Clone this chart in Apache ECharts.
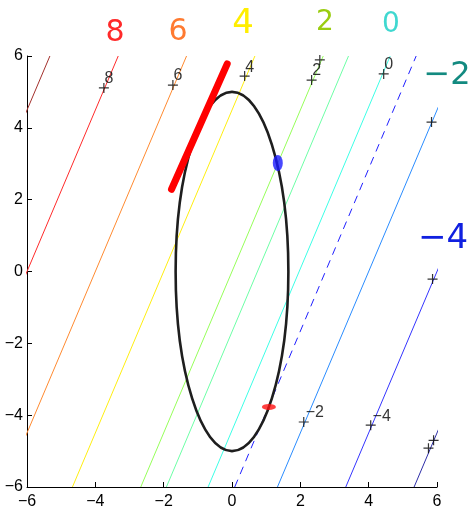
<!DOCTYPE html>
<html>
<head>
<meta charset="utf-8">
<script src="https://cdn.jsdelivr.net/npm/echarts@6/dist/echarts.min.js"></script>
<style>
  html, body { margin: 0; padding: 0; background: #fff; }
  #chart { width: 470px; height: 511px; }
</style>
</head>
<body>
<div id="chart"></div>
<script>
// Contour levels of the linear objective, each line given by where it
// crosses the bottom (y = -6) and top (y = 6) edges of the domain.
const levels      = [10, 8, 6, 4, 2, 1.25, 0, -0.78, -2, -4, -6];
const xAtBottom   = [-10.67, -8.67, -6.67, -4.67, -2.67, -1.92, -0.70, 0.08, 1.33, 3.33, 5.33];
const xAtTop      = [-5.33, -3.33, -1.33, 0.67, 2.67, 3.41, 4.63, 5.39, 6.67, 8.67, 10.67];
const levelColors = ['#a3302c', '#ff2a2a', '#ff8a30', '#ffee10', '#96ff5a', '#6dffa6', '#3cffe6', '#1f1fff', '#2a8cff', '#3434ff', '#2e2ea8'];
const dashedLevel = -0.78;
const yBottom = -6, yTop = 6;

// Contour label markers ("+") and their texts
const plusX    = [-3.75, -1.73, 0.37, 2.33, 2.57, 4.44, 2.10, 4.06, 5.75, 5.90, 5.84, 5.87];
const plusY    = [5.11, 5.19, 5.44, 5.33, 5.89, 5.50, -4.19, -4.28, -4.92, -4.70, 4.16, -0.21];
const plusText = ['8', '6', '4', '2', '', '0', '\u22122', '\u22124', '', '', '', ''];

// Constraint ellipse x^2/a^2 + y^2/b^2 = 1
const ellipseCenter = [0, 0];
const ellipseSemi   = [1.65, 5];

// Hand-drawn marks
const tangentStroke = [[-1.77, 2.29], [-0.14, 5.78]];
const blueMark = [1.34, 3.02];
const redMark  = [1.08, -3.77];

// Handwritten level notes around the frame
const noteTexts  = ['8', '6', '4', '2', '0', '\u22122', '\u22124'];
const noteColors = ['#ff2a2a', '#ff7a30', '#ffee00', '#9acd10', '#40d8d0', '#138a80', '#1020e0'];

const chart = echarts.init(document.getElementById('chart'), null, { renderer: 'canvas' });

const series = [];
levels.forEach((lv, i) => {
  series.push({
    type: 'line',
    data: [[xAtBottom[i], yBottom], [xAtTop[i], yTop]],
    symbol: 'none',
    silent: true,
    clip: true,
    z: 2,
    lineStyle: {
      color: levelColors[i],
      width: 1,
      type: lv === dashedLevel ? [8, 6] : 'solid'
    }
  });
});

series.push({
  type: 'custom',
  z: 5,
  silent: true,
  data: [[ellipseCenter[0], ellipseCenter[1], ellipseSemi[0], ellipseSemi[1]]],
  renderItem: function (params, api) {
    const c = api.coord([api.value(0), api.value(1)]);
    const rx = api.size([api.value(2), 0])[0];
    const ry = api.size([0, api.value(3)])[1];
    return {
      type: 'ellipse',
      shape: { cx: c[0], cy: c[1], rx: rx, ry: ry },
      style: { fill: 'none', stroke: '#1e1e1e', lineWidth: 2.6 }
    };
  }
});

series.push({
  type: 'scatter',
  z: 6,
  silent: true,
  symbol: 'path://M0,5L10,5M5,0L5,10',
  symbolSize: 10,
  itemStyle: { color: 'none', borderColor: '#000', borderWidth: 1.2 },
  data: plusX.map((x, i) => ({
    value: [x, plusY[i]],
    label: {
      show: plusText[i] !== '',
      formatter: plusText[i],
      position: 'inside',
      offset: [plusText[i].length > 1 ? 11 : 5, -9],
      color: '#000',
      fontSize: 16,
      fontFamily: 'Liberation Sans, Arial, sans-serif'
    }
  }))
});

series.push({
  type: 'line',
  z: 8,
  silent: true,
  symbol: 'none',
  data: tangentStroke,
  lineStyle: { color: '#ff0000', width: 7, cap: 'round' }
});

series.push({
  type: 'scatter',
  z: 9,
  silent: true,
  data: [blueMark],
  symbol: 'circle',
  symbolSize: [10, 16],
  itemStyle: { color: '#1a1aff' }
});

series.push({
  type: 'scatter',
  z: 9,
  silent: true,
  data: [redMark],
  symbol: 'circle',
  symbolSize: [14, 6],
  itemStyle: { color: '#ff1010' }
});

const axisCommon = {
  type: 'value',
  min: -6,
  max: 6,
  interval: 2,
  splitLine: { show: false },
  axisLine: { show: true, onZero: false, lineStyle: { color: '#000', width: 1 } },
  axisTick: { show: true, inside: true, length: 5, lineStyle: { color: '#000' } },
  axisLabel: {
    color: '#000',
    fontSize: 16,
    fontFamily: 'Liberation Sans, Arial, sans-serif',
    formatter: v => String(v).replace('-', '\u2212')
  }
};

const notePos = [[115, 33], [178, 32], [243, 24], [325, 23], [391, 25], [447, 76], [443, 239]];
const noteSize = [30, 30, 34, 28, 28, 32, 34];

chart.setOption({
  animation: false,
  backgroundColor: '#fff',
  grid: { left: 27, right: 33, top: 56, bottom: 24, containLabel: false },
  xAxis: Object.assign({}, axisCommon, { axisLabel: Object.assign({}, axisCommon.axisLabel, { margin: 7 }) }),
  yAxis: Object.assign({}, axisCommon, { axisLabel: Object.assign({}, axisCommon.axisLabel, { margin: 4 }) }),
  series: series,
  graphic: noteTexts.map((t, i) => ({
    type: 'text',
    x: notePos[i][0],
    y: notePos[i][1],
    z: 20,
    silent: true,
    style: {
      text: t,
      fill: noteColors[i],
      font: noteSize[i] + 'px "DejaVu Sans", sans-serif',
      align: 'center',
      verticalAlign: 'middle'
    }
  }))
});
</script>
</body>
</html>
